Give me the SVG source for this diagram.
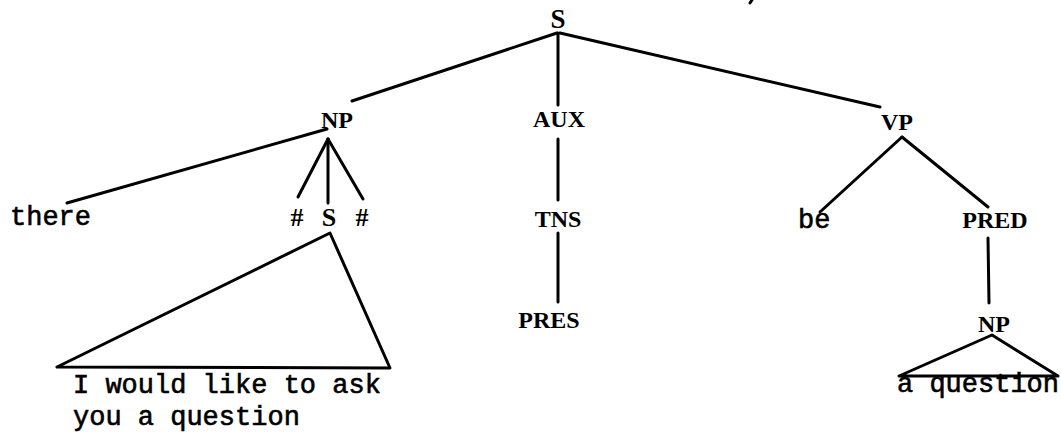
<svg xmlns="http://www.w3.org/2000/svg" width="1061" height="437" viewBox="0 0 1061 437">
<style>
.e{stroke:#000;stroke-width:3;fill:none;stroke-linecap:round;stroke-linejoin:round}
.c{font-family:"Liberation Serif","DejaVu Serif",serif;font-weight:bold;font-size:24px;fill:#000;text-anchor:middle}
.m{font-family:"Liberation Mono","DejaVu Sans Mono",monospace;font-size:27px;fill:#000;stroke:#000;stroke-width:0.6}
</style>
<rect width="1061" height="437" fill="#fff"/>
<g id="connectors">
<line class="e" x1="557" y1="33" x2="352" y2="101"/>
<line class="e" x1="558" y1="33" x2="558" y2="105"/>
<line class="e" x1="560" y1="33" x2="880" y2="107"/>
<line class="e" x1="327" y1="129" x2="67" y2="203"/>
<line class="e" x1="328" y1="139" x2="298" y2="197"/>
<line class="e" x1="328" y1="139" x2="328" y2="203"/>
<line class="e" x1="328" y1="139" x2="363" y2="199"/>
<polygon class="e" points="330,233 57,367 390,368"/>
<line class="e" x1="558" y1="139" x2="558" y2="200"/>
<line class="e" x1="558" y1="233" x2="558" y2="302"/>
<line class="e" x1="902" y1="137" x2="820" y2="212"/>
<line class="e" x1="902" y1="137" x2="988" y2="207"/>
<line class="e" x1="988" y1="238" x2="989" y2="303"/>
<polygon class="e" points="992,335 899,376 1058,376"/>
<line class="e" x1="752" y1="0" x2="750" y2="3"/>
</g>
<g id="S"><text class="c" x="558" y="28" style="font-size:27px">S</text></g>
<g id="NP"><text class="c" x="337" y="128">NP</text></g>
<g id="AUX"><text class="c" x="559" y="127">AUX</text></g>
<g id="VP"><text class="c" x="897" y="130">VP</text></g>
<g id="there"><text class="m" x="10" y="225">there</text></g>
<g id="hash1"><text class="c" x="297" y="226" style="font-size:26px">#</text></g>
<g id="S2"><text class="c" x="329" y="226" style="font-size:26px">S</text></g>
<g id="hash2"><text class="c" x="362" y="226" style="font-size:26px">#</text></g>
<g id="TNS"><text class="c" x="558" y="227">TNS</text></g>
<g id="PRES"><text class="c" x="549" y="328">PRES</text></g>
<g id="be"><text class="m" x="798" y="228">be</text></g>
<g id="PRED"><text class="c" x="995" y="228">PRED</text></g>
<g id="NP2"><text class="c" x="994" y="332">NP</text></g>
<g id="sentence"><text class="m" x="73" y="393">I would like to ask</text><text class="m" x="73" y="425">you a question</text></g>
<g id="aquestion"><text class="m" x="897" y="392">a question</text></g>
</svg>
